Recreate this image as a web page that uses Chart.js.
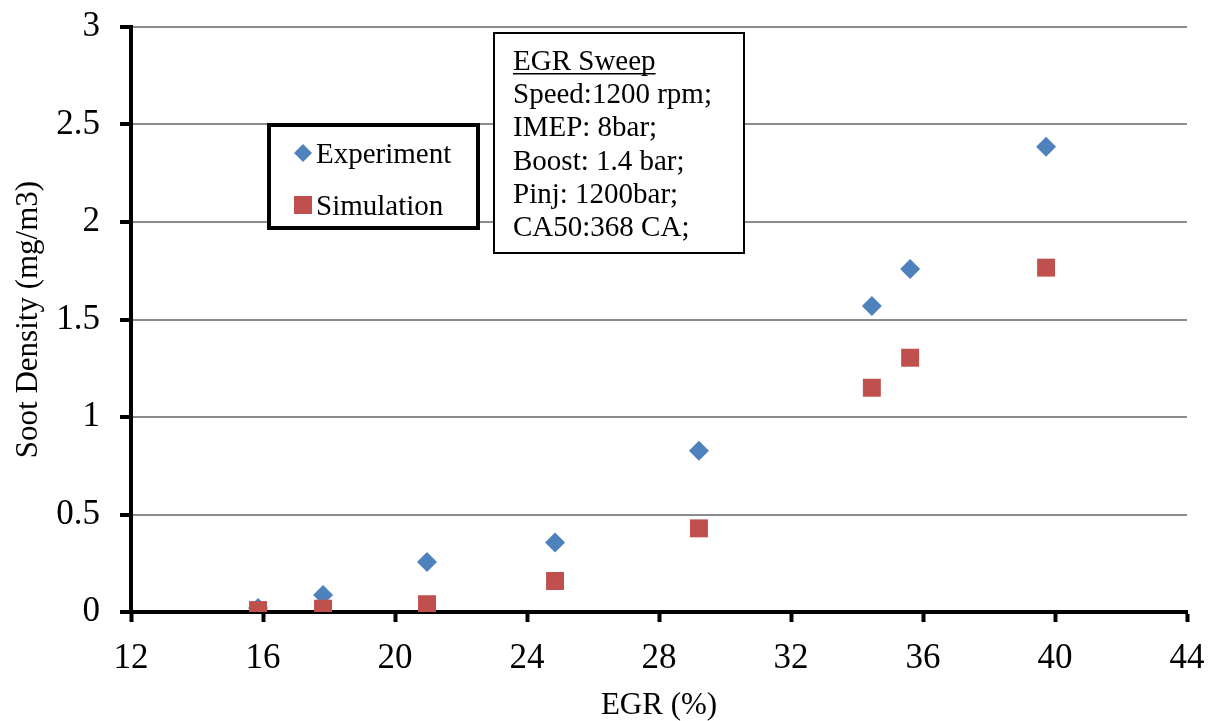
<!DOCTYPE html>
<html>
<head>
<meta charset="utf-8">
<script src="https://cdn.jsdelivr.net/npm/chart.js@4/dist/chart.umd.min.js"></script>
<style>
  html, body { margin: 0; padding: 0; background: #fff; }
  #wrap { width: 1211px; height: 721px; position: relative; }
</style>
</head>
<body>
<div id="wrap"><canvas id="chart"></canvas></div>
<script>
// EGR rate (%) for each operating point
const egr = [15.85, 17.82, 20.97, 24.85, 29.21, 34.45, 35.61, 39.73];
// Soot density (mg/m3)
const experiment = [0.02, 0.087, 0.256, 0.357, 0.827, 1.569, 1.759, 2.386];
const simulation = [0.01, 0.017, 0.04, 0.159, 0.429, 1.15, 1.304, 1.766];

const seriesNames = ["Experiment", "Simulation"];
const xTicks = [12, 16, 20, 24, 28, 32, 36, 40, 44];
const yTicks = [0, 0.5, 1, 1.5, 2, 2.5, 3];

const noteLines = [
  "EGR Sweep",
  "Speed:1200 rpm;",
  "IMEP: 8bar;",
  "Boost: 1.4 bar;",
  "Pinj: 1200bar;",
  "CA50:368 CA;"
];

const FONT = "'Liberation Serif', 'Times New Roman', serif";
const BLUE = "#4F81BD";
const RED = "#C0504D";

function toPoints(xs, ys) {
  return xs.map((x, i) => ({ x: x, y: ys[i] }));
}

// draws the boxed legend and the text note inside the plot
const boxesPlugin = {
  id: "boxes",
  afterDraw(chart) {
    const ctx = chart.ctx;
    ctx.save();

    // legend box
    ctx.fillStyle = "#fff";
    ctx.fillRect(269, 125, 209, 103);
    ctx.strokeStyle = "#000";
    ctx.lineWidth = 4;
    ctx.strokeRect(269, 125, 209, 103);

    ctx.fillStyle = BLUE;
    ctx.beginPath();
    ctx.moveTo(303, 144);
    ctx.lineTo(312, 153);
    ctx.lineTo(303, 162);
    ctx.lineTo(294, 153);
    ctx.closePath();
    ctx.fill();
    ctx.fillStyle = RED;
    ctx.fillRect(294, 196, 18, 18);

    ctx.fillStyle = "#000";
    ctx.font = "29px " + FONT;
    ctx.textBaseline = "alphabetic";
    ctx.textAlign = "left";
    ctx.fillText(seriesNames[0], 316, 163);
    ctx.fillText(seriesNames[1], 316, 215);

    // note box
    ctx.fillStyle = "#fff";
    ctx.fillRect(494, 33, 250, 220);
    ctx.strokeStyle = "#000";
    ctx.lineWidth = 2;
    ctx.strokeRect(494, 33, 250, 220);

    ctx.fillStyle = "#000";
    ctx.font = "29px " + FONT;
    noteLines.forEach((line, i) => {
      const y = 70 + i * 33.2;
      ctx.fillText(line, 513, y);
      if (i === 0) {
        const w = ctx.measureText(line).width;
        ctx.fillRect(513, y + 3, w, 1.5);
      }
    });
    ctx.restore();
  }
};

new Chart(document.getElementById("chart"), {
  type: "scatter",
  data: {
    datasets: [
      {
        label: seriesNames[0],
        data: toPoints(egr, experiment),
        order: 1,
        pointStyle: "rectRot",
        pointRadius: 10,
        backgroundColor: BLUE,
        borderColor: BLUE,
        borderWidth: 0
      },
      {
        label: seriesNames[1],
        data: toPoints(egr, simulation),
        order: 0,
        pointStyle: "rect",
        pointRadius: 12.7,
        backgroundColor: RED,
        borderColor: RED,
        borderWidth: 0
      }
    ]
  },
  options: {
    responsive: true,
    maintainAspectRatio: false,
    animation: false,
    layout: { padding: { top: 27, right: 24, left: 0, bottom: 0 } },
    plugins: {
      legend: { display: false },
      tooltip: { enabled: false }
    },
    scales: {
      x: {
        type: "linear",
        min: 12,
        max: 44,
        afterBuildTicks: (scale) => {
          scale.ticks = xTicks.map((v) => ({ value: v }));
        },
        afterFit: (scale) => {
          scale.height = 109;
          scale.paddingLeft = 0;
          scale.paddingRight = 0;
        },
        grid: {
          drawOnChartArea: false,
          drawTicks: true,
          tickLength: 10,
          tickColor: "#000",
          tickWidth: 4
        },
        border: { display: true, color: "#000", width: 4 },
        ticks: {
          color: "#000",
          padding: 16,
          callback: (v) => String(v),
          font: { family: FONT, size: 35 }
        },
        title: {
          display: true,
          text: "EGR (%)",
          color: "#000",
          padding: { top: 0, bottom: -3 },
          font: { family: FONT, size: 31 }
        }
      },
      y: {
        type: "linear",
        min: 0,
        max: 3,
        afterBuildTicks: (scale) => {
          scale.ticks = yTicks.map((v) => ({ value: v }));
        },
        afterFit: (scale) => {
          scale.width = 131;
          scale.paddingTop = 0;
          scale.paddingBottom = 0;
        },
        grid: {
          color: "#8c8c8c",
          lineWidth: 2,
          drawTicks: true,
          tickLength: 11,
          tickColor: "#000",
          tickWidth: 4
        },
        border: { display: true, color: "#000", width: 4 },
        ticks: {
          color: "#000",
          padding: 20,
          callback: (v) => String(v),
          font: { family: FONT, size: 35 }
        },
        title: {
          display: true,
          text: "Soot Density (mg/m3)",
          color: "#000",
          padding: { top: 10, bottom: 0 },
          font: { family: FONT, size: 31 }
        }
      }
    }
  },
  plugins: [boxesPlugin]
});
</script>
</body>
</html>
